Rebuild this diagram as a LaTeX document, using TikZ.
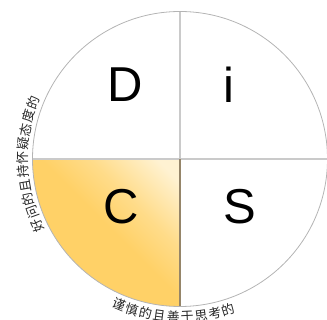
\documentclass[tikz,border=0pt]{standalone}
\usepackage{fontspec}
\setmainfont{Liberation Sans}
\newfontfamily\cjk{Noto Sans CJK SC}
\definecolor{rimgray}{HTML}{B4B4B4}
\definecolor{crossgray}{HTML}{CACACA}
\definecolor{edgebrown}{HTML}{958569}
\definecolor{cream}{HTML}{FFF2D2}
\definecolor{goldmid}{HTML}{FFDC8A}
\definecolor{gold}{HTML}{FFD167}
\pgfdeclarehorizontalshading{cshade}{100bp}{color(0bp)=(gold); color(52bp)=(gold); color(64bp)=(goldmid); color(80bp)=(cream); color(100bp)=(cream)}
\begin{document}
\begin{tikzpicture}[x=1pt,y=1pt,
  rim/.style={draw=rimgray,line width=0.8pt},
  crossline/.style={draw=crossgray,line width=1.3pt},
  edgeline/.style={draw=edgebrown,line width=1.2pt},
  letter/.style={inner sep=0pt,font=\fontsize{49}{49}\selectfont},
  arcch/.style={inner sep=0pt,font=\cjk\fontsize{13}{13}\selectfont,text=black!85}]
\useasboundingbox (-180,-161) rectangle (147,159);
\shade[shading=cshade,shading angle=45]
  (0,0) -- (-147.5,0) arc[start angle=180,end angle=270,radius=147.5] -- cycle;
\draw[crossline] (-147.5,0) -- (147.5,0);
\draw[crossline] (0,147.5) -- (0,0);
\draw[edgeline] (0,0) -- (0,-147.5);
\draw[rim] (0,0) circle[radius=147.5];
\node[letter] (D) at (-55,74.5) {D};
\node[letter] (I) at (48.5,74.5) {i};
\node[letter] (C) at (-59,-47.5) {C};
\node[letter] (S) at (60,-47.5) {S};
\foreach \ch [count=\i from 0] in {好,问,的,且,持,怀,疑,态,度,的}
  \node[arcch,rotate={205-5.1*\i-90}] (L\i) at ({205-5.1*\i}:157) {\ch};
\foreach \ch [count=\i from 0] in {谨,慎,的,且,善,于,思,考,的}
  \node[arcch,rotate={247.3+5.06*\i+90}] (B\i) at ({247.3+5.06*\i}:158) {\ch};
\end{tikzpicture}
\end{document}
